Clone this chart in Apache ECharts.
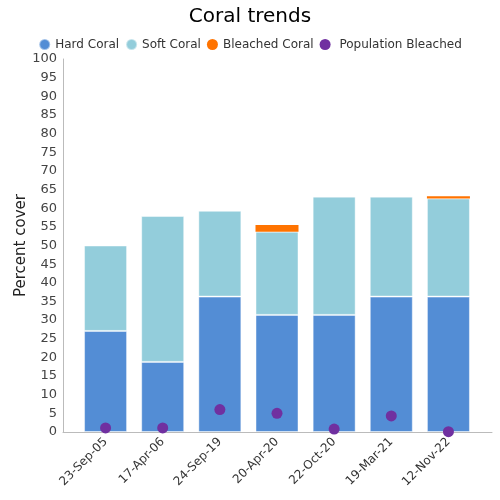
<!DOCTYPE html>
<html>
<head>
<meta charset="utf-8">
<script src="https://cdn.jsdelivr.net/npm/echarts@6/dist/echarts.min.js"></script>
<style>html,body{margin:0;padding:0;background:#fff}#c{width:500px;height:500px}</style>
</head>
<body>
<div id="c"></div>
<script>
var categories = ['23-Sep-05','17-Apr-06','24-Sep-19','20-Apr-20','22-Oct-20','19-Mar-21','12-Nov-22'];
var hardCoral = [27.1, 18.8, 36.3, 31.4, 31.4, 36.3, 36.3];
var softCoral = [22.9, 39.1, 23.0, 22.3, 31.7, 26.8, 26.3];
var bleachedCoral = [0, 0, 0, 1.8, 0, 0, 0.6];
var populationBleached = [1.1, 1.1, 6.0, 5.0, 0.8, 4.3, 0.1];
var yMin = 0, yMax = 100, yStep = 5;

var chart = echarts.init(document.getElementById('c'));
var font = 'DejaVu Sans';
chart.setOption({
  animation: false,
  textStyle: { fontFamily: font },
  title: { text: 'Coral trends', left: 'center', top: 2, textStyle: { fontFamily: font, fontSize: 20, fontWeight: 'normal', color: '#000' } },
  legend: {
    top: 33, left: 'center', icon: 'circle', itemWidth: 11, itemHeight: 11, itemGap: 6,
    textStyle: { fontFamily: font, fontSize: 12, color: '#333' },
    data: ['Hard Coral','Soft Coral','Bleached Coral',' Population Bleached']
  },
  grid: [
    { left: 77, right: 23, top: 59, bottom: 68 },
    { left: 63, right: 8, top: 59, bottom: 68 }
  ],
  xAxis: [
    {
      type: 'category', gridIndex: 0, data: categories,
      axisLine: { show: false }, axisTick: { show: false },
      axisLabel: { rotate: 45, fontSize: 12, color: '#333', fontFamily: font, margin: 8 }
    },
    {
      type: 'value', gridIndex: 1, min: 0, max: 1,
      axisLine: { show: true, onZero: false, lineStyle: { color: '#bbb' } },
      axisTick: { show: false }, axisLabel: { show: false }, splitLine: { show: false }
    }
  ],
  yAxis: [
    {
      type: 'value', gridIndex: 0, min: yMin, max: yMax, interval: yStep,
      axisLine: { show: false }, axisTick: { show: false }, axisLabel: { show: false }, splitLine: { show: false }
    },
    {
      type: 'value', gridIndex: 1, min: yMin, max: yMax, interval: yStep,
      name: 'Percent cover', nameLocation: 'middle', nameGap: 34, nameMoveOverlap: false,
      nameTextStyle: { fontSize: 15, color: '#222', fontFamily: font },
      splitLine: { show: false },
      axisLine: { show: true, onZero: false, lineStyle: { color: '#bbb' } },
      axisTick: { show: false },
      axisLabel: { fontSize: 13, color: '#444', fontFamily: font, margin: 6 }
    }
  ],
  series: [
    { name: 'Hard Coral', type: 'bar', stack: 'c', barWidth: 43, data: hardCoral,
      itemStyle: { color: '#538dd5', borderColor: 'rgba(255,255,255,0.45)', borderWidth: 1 } },
    { name: 'Soft Coral', type: 'bar', stack: 'c', barWidth: 43, data: softCoral,
      itemStyle: { color: '#93cddb', borderColor: 'rgba(255,255,255,0.45)', borderWidth: 1 } },
    { name: 'Bleached Coral', type: 'bar', stack: 'c', barWidth: 43, data: bleachedCoral,
      itemStyle: { color: '#ff7300' } },
    { name: ' Population Bleached', type: 'scatter', symbolSize: 11, data: populationBleached, z: 5,
      itemStyle: { color: '#7030a0', opacity: 1 } }
  ]
});
</script>
</body>
</html>
